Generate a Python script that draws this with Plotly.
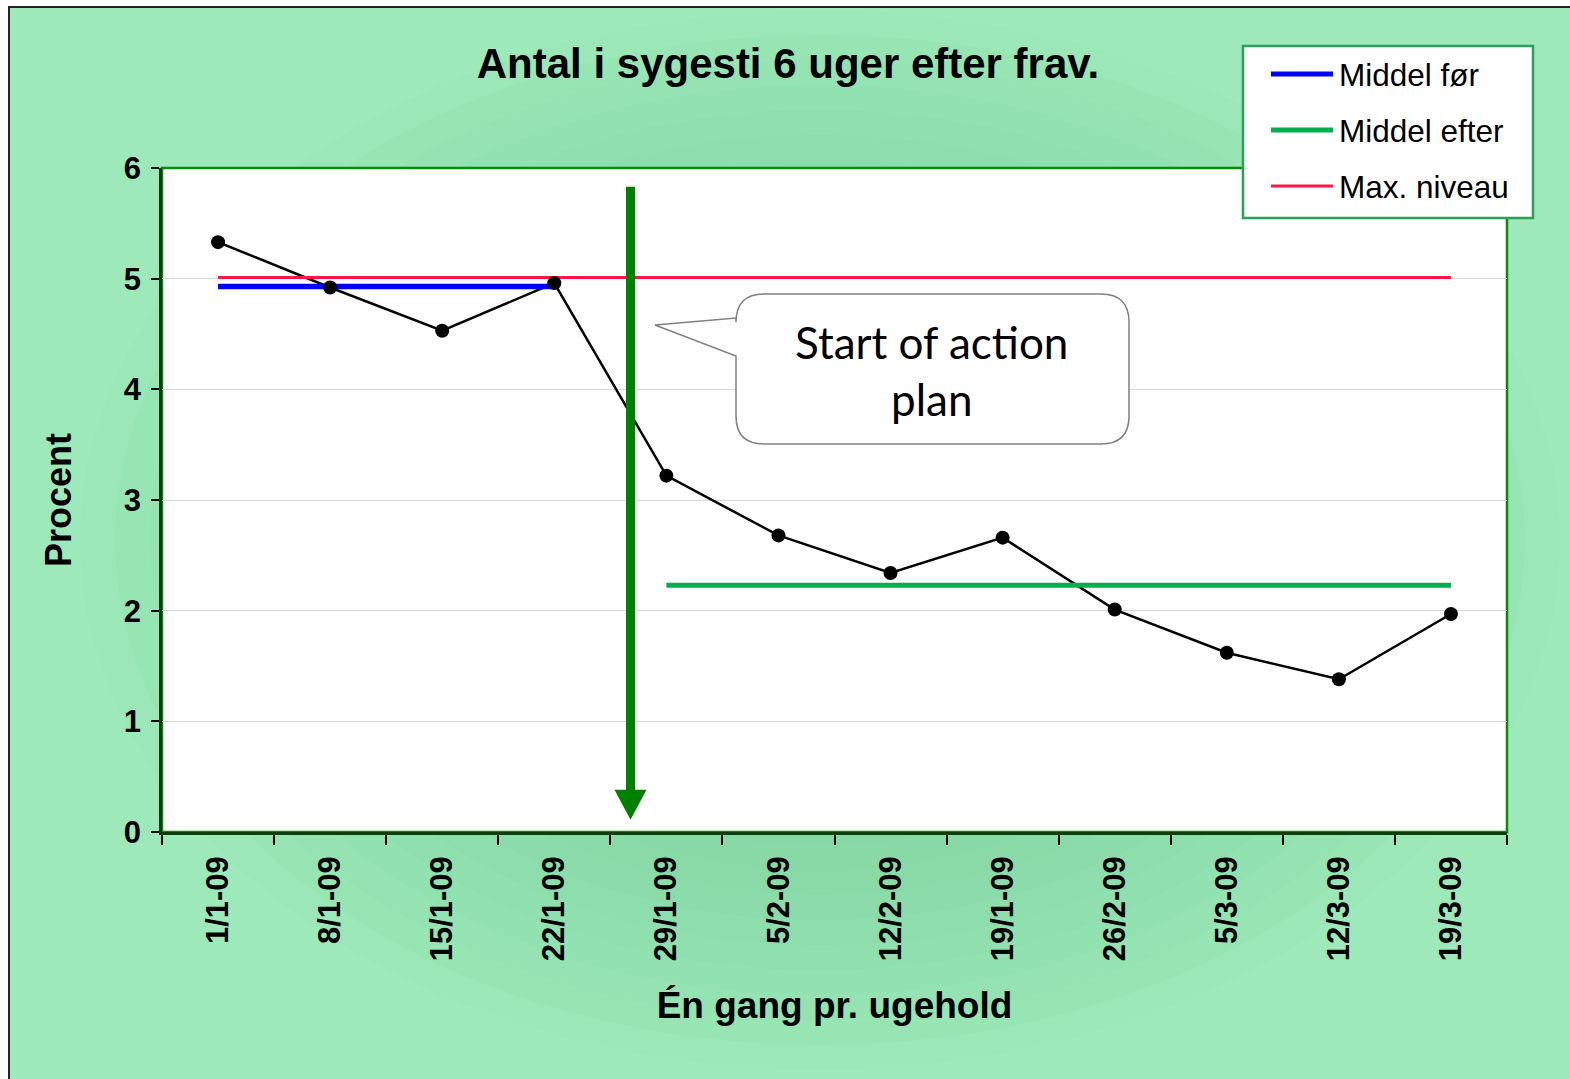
import plotly.graph_objects as go

# ---------------- data ----------------
categories = ["1/1-09", "8/1-09", "15/1-09", "22/1-09", "29/1-09", "5/2-09",
              "12/2-09", "19/1-09", "26/2-09", "5/3-09", "12/3-09", "19/3-09"]
procent = [5.33, 4.92, 4.53, 4.96, 3.22, 2.68, 2.34, 2.66, 2.01, 1.62, 1.38, 1.97]

series_names = ["Middel før", "Middel efter", "Max. niveau"]
middel_foer = 4.93
middel_foer_cats = categories[0:4]
middel_efter = 2.23
middel_efter_cats = categories[4:12]
max_niveau = 5.01
max_niveau_cats = categories

y_ticks = [0, 1, 2, 3, 4, 5, 6]
arrow_x = 3.68          # category position of the "start" arrow
arrow_top, arrow_tip = 5.83, 0.11

title_text = "Antal i sygesti 6 uger efter frav."
x_title = "Én gang pr. ugehold"
y_title = "Procent"
callout_text = "Start of action<br>plan"

# ---------------- geometry helpers ----------------
W, H = 1570, 1079
L, R, T, B = 162, 1507, 168, 832
PW, PH = R - L, B - T
def px(x):
    return (x - L) / PW
def py(y):
    return (B - y) / PH
def dx(i):
    return (i + 0.5) / len(categories)
def dy(v):
    return v / 6.0

BLUE = "#0000FF"
GREEN = "#00B050"
RED = "#FF1744"
colors = [BLUE, GREEN, RED]

fig = go.Figure()

fig.add_trace(go.Scatter(x=categories, y=procent, mode="lines",
                         line=dict(color="black", width=2.5), showlegend=False,
                         hoverinfo="skip"))
fig.add_trace(go.Scatter(x=middel_foer_cats, y=[middel_foer] * len(middel_foer_cats),
                         mode="lines", line=dict(color=BLUE, width=5.5),
                         name=series_names[0], showlegend=False))
fig.add_trace(go.Scatter(x=middel_efter_cats, y=[middel_efter] * len(middel_efter_cats),
                         mode="lines", line=dict(color=GREEN, width=5),
                         name=series_names[1], showlegend=False))
fig.add_trace(go.Scatter(x=max_niveau_cats, y=[max_niveau] * len(max_niveau_cats),
                         mode="lines", line=dict(color=RED, width=3),
                         name=series_names[2], showlegend=False))
fig.add_trace(go.Scatter(x=categories, y=procent, mode="markers",
                         marker=dict(color="black", size=14), showlegend=False))

shapes = []
# outer chart area (green) with dark border on visible edges
shapes.append(dict(type="rect", xref="paper", yref="paper", layer="below",
                   x0=px(9), x1=px(1600), y0=py(1100), y1=py(7),
                   fillcolor="#9EE9BA", line=dict(color="#222222", width=2)))
# soft darker glow around the centre (approximate radial gradient)
cx, cy = 820, 540
n_glow = 16
for k in range(n_glow):
    f = 1 - k / n_glow
    rx, ry = 180 + 560 * f, 130 + 400 * f
    shapes.append(dict(type="circle", xref="paper", yref="paper", layer="below",
                       x0=px(cx - rx), x1=px(cx + rx), y0=py(cy + ry), y1=py(cy - ry),
                       fillcolor="#3FB866", opacity=0.027, line=dict(width=0)))
# white plot area
shapes.append(dict(type="rect", xref="paper", yref="paper", layer="below",
                   x0=0, x1=1, y0=0, y1=1, fillcolor="white", line=dict(width=0)))
# plot border (green), below the axis lines
shapes.append(dict(type="rect", xref="paper", yref="paper", layer="below",
                   x0=0, x1=1, y0=0, y1=1, fillcolor="rgba(0,0,0,0)",
                   line=dict(color="#0A8A0A", width=2.5)))

# green arrow
shapes.append(dict(type="line", xref="paper", yref="paper", layer="above",
                   x0=dx(arrow_x), x1=dx(arrow_x), y0=dy(arrow_top), y1=dy(arrow_tip) + 25 / PH,
                   line=dict(color="#008000", width=9)))
hw = 16 / PW
tri_top = dy(arrow_tip) + 30 / PH
shapes.append(dict(type="path", xref="paper", yref="paper", layer="above",
                   path=f"M {dx(arrow_x)-hw} {tri_top} L {dx(arrow_x)+hw} {tri_top} L {dx(arrow_x)} {dy(arrow_tip)} Z",
                   fillcolor="#008000", line=dict(width=0)))

# callout bubble
cl, cr, ct, cb, rr = 736, 1129, 294, 444, 28
pts = [
    ("M", cl, ct + rr), ("Q", cl, ct, cl + rr, ct), ("L", cr - rr, ct),
    ("Q", cr, ct, cr, ct + rr), ("L", cr, cb - rr), ("Q", cr, cb, cr - rr, cb),
    ("L", cl + rr, cb), ("Q", cl, cb, cl, cb - rr), ("L", cl, 356),
    ("L", 655, 325), ("L", cl, 318),
]
path = ""
for p in pts:
    if p[0] == "Q":
        path += f"Q {px(p[1])},{py(p[2])} {px(p[3])},{py(p[4])} "
    else:
        path += f"{p[0]} {px(p[1])},{py(p[2])} "
path += "Z"
shapes.append(dict(type="path", xref="paper", yref="paper", layer="above", path=path,
                   fillcolor="white", line=dict(color="#808080", width=1.5)))

# legend box (manual)
lg_l, lg_r, lg_t, lg_b = 1243, 1533, 46, 218
shapes.append(dict(type="rect", xref="paper", yref="paper", layer="above",
                   x0=px(lg_l), x1=px(lg_r), y0=py(lg_b), y1=py(lg_t),
                   fillcolor="white", line=dict(color="#2E9E5E", width=2.5)))
legend_y = [74, 130, 186]
legend_w = [5, 5, 3]
annotations = []
for name, col, yy, lw in zip(series_names, colors, legend_y, legend_w):
    shapes.append(dict(type="line", xref="paper", yref="paper", layer="above",
                       x0=px(1271), x1=px(1333), y0=py(yy), y1=py(yy),
                       line=dict(color=col, width=lw)))
    annotations.append(dict(xref="paper", yref="paper", x=px(1337), y=py(yy + 1),
                            text=name, showarrow=False, xanchor="left", yanchor="middle",
                            font=dict(family="Liberation Sans, Arial", size=31.5, color="black")))

annotations.append(dict(xref="paper", yref="paper", x=px(932), y=py(370),
                        text=callout_text, showarrow=False, xanchor="center", yanchor="middle",
                        font=dict(family="Lato, Open Sans", size=44, color="black")))

fig.update_layout(
    width=W, height=H,
    margin=dict(l=L, r=W - R, t=T, b=H - B, autoexpand=False),
    paper_bgcolor="white",
    plot_bgcolor="rgba(0,0,0,0)",
    shapes=shapes,
    annotations=annotations,
    showlegend=False,
    title=dict(text=f"<b>{title_text}</b>", x=788 / W, xref="container", xanchor="center",
               y=1 - 63 / H, yref="container", yanchor="middle",
               font=dict(family="Liberation Sans, Arial", size=42, color="black")),
    font=dict(family="Liberation Sans, Arial", color="black"),
)

fig.update_xaxes(
    type="category", categoryorder="array", categoryarray=categories,
    range=[-0.5, len(categories) - 0.5], automargin=False,
    tickson="boundaries", ticks="outside", ticklen=10, tickwidth=1.5, tickcolor="black",
    tickangle=-90, ticklabelstandoff=9,
    tickfont=dict(family="Liberation Sans, Arial", size=31, color="black"),
    showline=True, linecolor="#0B3F0B", linewidth=2.5, showgrid=False, zeroline=False,
    title=dict(text=f"<b>{x_title}</b>", standoff=32,
               font=dict(family="Liberation Sans, Arial", size=37, color="black")),
)
fig.update_yaxes(
    range=[0, 6], tickvals=y_ticks, automargin=False,
    ticks="outside", ticklen=8, tickwidth=1.5, tickcolor="black", ticklabelstandoff=4,
    tickfont=dict(family="Liberation Sans, Arial", size=31, color="black"),
    showline=True, linecolor="#0B3F0B", linewidth=2.5,
    showgrid=True, gridcolor="#D9D9D9", gridwidth=1.2, zeroline=False,
    title=dict(text=f"<b>{y_title}</b>", standoff=42,
               font=dict(family="Liberation Sans, Arial", size=36, color="black")),
)
# bold tick labels
fig.update_xaxes(ticktext=[f"<b>{c}</b>" for c in categories], tickvals=categories)
fig.update_yaxes(ticktext=[f"<b>{v}</b>" for v in y_ticks])

fig.write_html("out.html", config={"displayModeBar": False},
               post_script="document.body.style.margin='0px';document.body.style.overflow='hidden';")
